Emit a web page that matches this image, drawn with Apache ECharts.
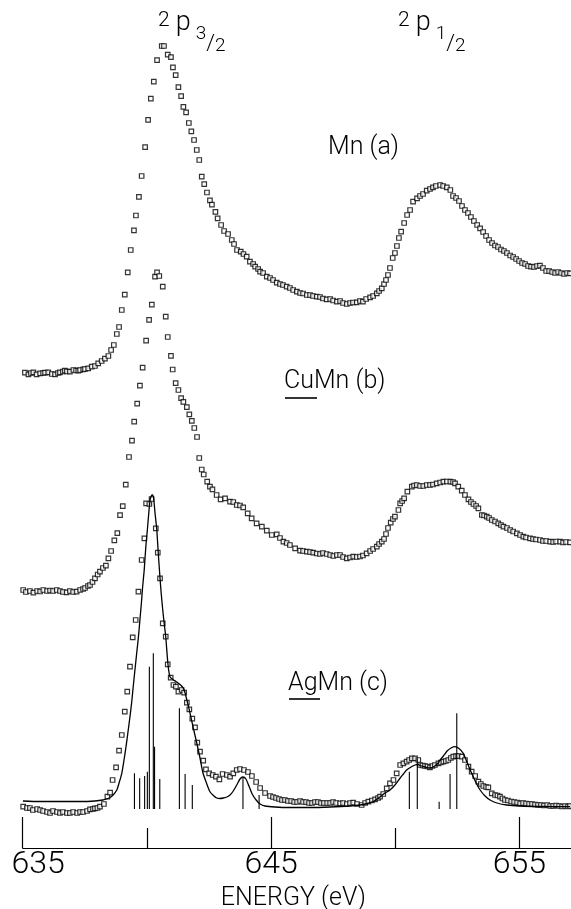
<!DOCTYPE html>
<html><head><meta charset="utf-8">
<script src="https://cdn.jsdelivr.net/npm/echarts@6/dist/echarts.min.js"></script>
<style>html,body{margin:0;padding:0;background:#fff}#c{width:571px;height:909px}</style>
</head><body><div id="c"></div>
<script>
// ---- data (energy in eV, intensity in arbitrary units, spectra stacked) ----
const majorTicks = [635, 645, 655];
const minorTicks = [640, 650];
const tickLabels = ['635', '645', '655'];

const mnA = [[635.09,475.3],[635.23,473.7],[635.33,475],[635.43,475.7],[635.56,473.7],[635.70,474.7],[635.82,475],[635.90,475.3],[636.03,475.7],[636.17,474],[636.30,473.7],[636.42,475],[636.50,475.7],[636.62,476.5],[636.70,477.3],[636.78,476.5],[636.90,476.3],[637.04,478],[637.15,477.5],[637.24,477.3],[637.31,478],[637.44,478.7],[637.51,479],[637.64,479.7],[637.78,481.3],[637.91,482],[638.04,484.7],[638.18,487],[638.31,489.3],[638.45,492],[638.56,498],[638.67,503],[638.79,514],[638.88,521],[638.99,538],[639.11,553.4],[639.23,575.7],[639.35,598],[639.48,617.7],[639.56,632.5],[639.68,651.2],[639.79,672],[639.93,700.8],[640.05,728.2],[640.16,749.4],[640.28,766.3],[640.41,787.9],[640.60,802],[640.69,802],[640.84,793.3],[640.97,790.8],[641.05,780.7],[641.16,772.8],[641.27,760.9],[641.38,751.9],[641.47,741.1],[641.58,735.7],[641.69,725],[641.79,716.7],[641.90,708],[642.01,698],[642.11,688],[642.21,671.3],[642.31,663.8],[642.42,655.5],[642.54,647.6],[642.62,643.3],[642.76,636.1],[642.85,629.6],[642.99,623],[643.11,617],[643.27,614],[643.42,608],[643.51,604],[643.63,598],[643.78,596.3],[643.89,594],[644.02,591.3],[644.15,586.3],[644.28,584],[644.36,581.3],[644.48,579],[644.56,576.3],[644.68,575],[644.83,571.3],[644.96,570],[645.08,568],[645.23,565.3],[645.36,564],[645.48,563],[645.63,561.3],[645.76,560],[645.89,558],[646.04,556.3],[646.17,555],[646.29,554.5],[646.44,553],[646.57,553],[646.69,552],[646.84,551.3],[646.97,551],[647.09,549.5],[647.24,548.7],[647.38,549],[647.50,547.5],[647.65,546.3],[647.78,547],[647.90,545],[648.05,544],[648.18,545],[648.30,545.5],[648.45,545.7],[648.58,547],[648.70,546.3],[648.83,549],[648.99,550.7],[649.11,552],[649.26,554.7],[649.35,557],[649.46,559.7],[649.55,564],[649.63,568],[649.71,573],[649.79,580],[649.90,590],[649.99,595],[650.07,602],[650.15,610],[650.24,616.3],[650.36,625],[650.48,633],[650.60,638],[650.72,646.3],[650.88,649.7],[651.00,652],[651.12,654],[651.27,657.3],[651.40,659],[651.52,660.7],[651.64,662],[651.81,663],[651.93,662],[652.08,660.7],[652.22,658],[652.33,652],[652.45,650],[652.57,647],[652.69,642],[652.81,638],[652.93,635],[653.05,631],[653.17,627],[653.30,623],[653.42,619.7],[653.54,616],[653.66,612],[653.78,608],[653.90,605],[654.02,602.5],[654.14,601],[654.26,598.5],[654.38,597],[654.50,595],[654.63,592.5],[654.75,591],[654.87,589],[654.99,587],[655.11,585],[655.23,584],[655.35,582],[655.47,581.3],[655.59,581],[655.71,582],[655.83,582.3],[655.95,580],[656.08,577],[656.20,577],[656.32,576],[656.44,575],[656.56,576],[656.68,575],[656.80,574],[656.92,575],[657.04,574.7]];

const cuMnB = [[635.02,258],[635.13,256],[635.29,257],[635.43,255.3],[635.58,257],[635.70,256.5],[635.83,258],[635.98,257],[636.10,257.5],[636.22,257],[636.37,258],[636.50,257],[636.62,256],[636.77,255.7],[636.90,257],[637.03,256],[637.17,256.3],[637.31,258],[637.43,259],[637.51,260],[637.63,262],[637.71,263],[637.81,266],[637.91,269.7],[638.02,273.5],[638.11,276.3],[638.23,280],[638.35,282.4],[638.45,289.7],[638.56,297],[638.69,307.7],[638.81,314.9],[638.92,332.8],[639.03,341.8],[639.15,363.4],[639.28,391],[639.40,407.3],[639.49,426.4],[639.61,444.4],[639.72,462.4],[639.83,480.3],[639.97,507.3],[640.09,528.2],[640.20,543.3],[640.33,571.3],[640.41,575.7],[640.50,572],[640.64,561.3],[640.76,531.4],[640.84,511],[640.97,492.2],[641.04,478.5],[641.16,464.9],[641.27,458],[641.38,449.8],[641.47,446.2],[641.61,440.8],[641.71,433.6],[641.81,427.1],[641.91,420],[642.02,411],[642.11,390],[642.21,378.5],[642.29,373.5],[642.43,366.3],[642.54,361.3],[642.64,358.7],[642.81,353],[642.97,348.7],[643.15,349.7],[643.35,346.3],[643.48,346],[643.62,343],[643.75,342.5],[643.88,340.7],[644.06,334.7],[644.22,329.7],[644.42,324.7],[644.63,321.3],[644.83,317.3],[645.03,313],[645.23,313.7],[645.36,310],[645.50,306.3],[645.63,305],[645.76,303],[645.97,299.7],[646.17,297.3],[646.29,297],[646.44,296.3],[646.57,296],[646.70,295.3],[646.84,294.5],[646.97,294],[647.09,295],[647.24,294],[647.38,293],[647.51,292],[647.65,293],[647.78,293],[647.90,291],[648.05,289.7],[648.18,290.5],[648.31,291.3],[648.45,291],[648.58,291.5],[648.70,292.5],[648.85,294.7],[648.99,297],[649.11,299],[649.26,301.3],[649.35,304],[649.46,306.3],[649.55,309],[649.63,314],[649.71,320],[649.82,325.3],[649.91,329],[649.99,331.3],[650.13,338],[650.20,344.7],[650.28,347],[650.36,349.7],[650.49,356.3],[650.67,361.3],[650.76,362.5],[650.87,363],[651.00,362],[651.13,362],[651.27,363],[651.40,363],[651.52,363.5],[651.67,364.7],[651.81,365.5],[651.94,366.3],[652.08,366.5],[652.22,366.3],[652.33,366],[652.41,364.7],[652.54,361.3],[652.68,357.3],[652.81,353],[652.95,348.7],[653.05,346],[653.15,344],[653.26,342],[653.35,339.7],[653.49,333],[653.58,332.5],[653.69,331.3],[653.78,330],[653.89,328],[654.02,326.5],[654.15,324.7],[654.26,323],[654.36,321.3],[654.50,320],[654.63,318],[654.75,316.5],[654.90,314.7],[655.03,313],[655.16,311.3],[655.27,310.5],[655.43,309.7],[655.55,309],[655.67,308.5],[655.83,308],[655.95,307],[656.08,307],[656.24,306.3],[656.36,306],[656.48,306.5],[656.64,306.3],[656.76,305.5],[656.88,306],[657.04,305.7]];

const agMnC = [[635.02,41.3],[635.17,40],[635.29,40],[635.41,38],[635.58,39],[635.70,38],[635.82,37],[635.98,36],[636.10,35],[636.22,37],[636.38,36],[636.50,35],[636.62,36],[636.78,35],[636.90,35],[637.03,36],[637.19,35],[637.31,36],[637.43,36],[637.59,37],[637.71,38.7],[637.83,39],[637.91,39.7],[638.01,40],[638.11,41.3],[638.27,44],[638.41,51.3],[638.52,55.3],[638.62,68],[638.76,80.7],[638.88,97.3],[638.99,113],[639.11,136.3],[639.21,156.3],[639.32,181.3],[639.43,210.7],[639.55,228],[639.66,256.3],[639.79,288],[639.90,309.7],[639.97,344.7],[640.10,344],[640.19,349],[640.36,319.7],[640.44,295.3],[640.53,269.7],[640.64,224.7],[640.76,211.3],[640.84,183.7],[640.96,170.3],[641.07,163],[641.17,161.3],[641.27,156.3],[641.40,158],[641.50,155.3],[641.61,145.3],[641.71,138.7],[641.83,129.3],[641.94,120.7],[642.03,105.3],[642.14,96.3],[642.27,87.3],[642.38,78.7],[642.51,74.7],[642.65,73],[642.78,71.3],[642.92,68.7],[643.05,74],[643.22,73],[643.35,71.3],[643.48,74.7],[643.62,78],[643.75,79],[643.91,78],[644.07,76],[644.23,72],[644.40,66],[644.56,60],[644.76,55],[644.96,52],[645.08,51],[645.20,50],[645.32,49],[645.44,48],[645.56,48],[645.68,47],[645.81,47],[645.93,46],[646.05,46],[646.17,47],[646.29,46],[646.41,46],[646.53,45],[646.65,45],[646.77,46],[646.89,46],[647.01,45],[647.13,45],[647.26,45],[647.38,45],[647.50,46],[647.62,45],[647.78,44.7],[647.90,45],[648.05,44],[648.18,45],[648.31,45.3],[648.46,44],[648.65,43],[648.79,45],[648.92,46.3],[649.06,47.5],[649.19,48.7],[649.31,50],[649.39,51.3],[649.52,54],[649.66,59.7],[649.79,64.7],[649.93,68],[650.06,74.7],[650.20,83],[650.33,84.7],[650.46,86.3],[650.56,88],[650.67,89.7],[650.80,89.7],[650.93,88],[651.00,83],[651.10,82.5],[651.20,82],[651.30,81.5],[651.40,80.7],[651.50,82],[651.60,83],[651.74,84.7],[651.84,85.5],[651.94,86.3],[652.04,87],[652.14,88],[652.24,90],[652.34,91.3],[652.45,91.8],[652.54,92],[652.68,91.3],[652.81,88],[652.95,81.3],[653.08,76.3],[653.22,72],[653.35,66.3],[653.45,64],[653.55,62],[653.66,61],[653.75,60.7],[653.89,54.7],[654.02,53],[654.12,52.5],[654.22,51.3],[654.32,49.5],[654.42,48],[654.54,47.5],[654.67,46.5],[654.79,46],[654.91,45.5],[655.03,44.7],[655.15,45],[655.27,44.5],[655.39,44],[655.51,44],[655.63,43.5],[655.75,43],[655.87,43],[655.99,42.5],[656.12,43],[656.24,42],[656.36,42],[656.48,42.5],[656.60,42],[656.72,41.5],[656.84,42],[656.96,41.5],[657.04,42]];

const agMnFit = [[635.01,47],[635.70,46.5],[636.50,46.5],[637.31,46.5],[637.91,47],[638.23,48],[638.43,49.5],[638.52,50.5],[638.64,53],[638.79,58],[638.88,65],[638.99,74.7],[639.08,88],[639.16,101.3],[639.24,116],[639.32,131.3],[639.39,146],[639.45,161.3],[639.52,178],[639.59,194.7],[639.66,211],[639.72,228],[639.78,245],[639.83,261.3],[639.89,277],[639.93,291.3],[639.97,305],[640.02,318],[640.07,333],[640.13,348],[640.18,352],[640.22,353],[640.27,350],[640.33,334.7],[640.40,318],[640.46,294.7],[640.53,269.7],[640.58,254],[640.64,238],[640.70,224],[640.76,211.3],[640.85,183.7],[640.93,171.3],[641.07,168],[641.17,166.5],[641.27,164.7],[641.38,162.5],[641.47,159.7],[641.54,155],[641.61,148],[641.67,142],[641.74,134.7],[641.87,120],[642.01,105],[642.14,90],[642.26,75],[642.40,65],[642.54,56.3],[642.68,52.5],[642.81,50],[642.95,49.5],[643.08,50],[643.22,51],[643.35,53],[643.48,57],[643.62,63],[643.75,69],[643.87,71],[643.99,69],[644.11,62],[644.24,54],[644.40,48],[644.56,44],[644.76,42],[645.16,41],[645.76,40.5],[646.57,40.5],[647.38,41],[648.18,42],[648.58,43],[648.87,44.5],[649.11,46.3],[649.39,51],[649.59,55],[649.79,58],[649.99,63],[650.20,70],[650.33,74],[650.46,78],[650.64,81],[650.80,83],[650.92,83.5],[651.00,82.5],[651.20,81],[651.40,80],[651.60,82],[651.73,85],[651.81,88],[651.94,92],[652.09,97],[652.25,100],[652.41,101.3],[652.57,99.5],[652.74,94.7],[652.89,86],[653.08,74.7],[653.26,65],[653.42,58],[653.62,52],[653.82,48],[654.10,45],[654.49,43],[655.03,42],[655.83,41.5],[657.04,41.3]];

const agMnSticks = [[639.50,74.7],[639.71,69.7],[639.91,72],[640.02,76.3],[640.10,181.3],[640.26,194.7],[640.31,101.3],[640.52,69],[641.31,139.7],[641.54,74],[641.83,63],[643.87,70],[644.52,53],[650.57,76.3],[650.89,89.7],[651.77,46.3],[652.21,74],[652.48,134.7]];
const stickBase = 39;

// ---- chart ----
const FONT = 'Roboto';
const W = 300;
const chart = echarts.init(document.getElementById('c'), null, {renderer: 'canvas'});
const square = {symbol: 'rect', symbolSize: 4.5, itemStyle: {color: '#fff', borderColor: '#000', borderWidth: 1.2}};
function fracLabel(x, lower) {
  const base = {fontFamily: FONT, fontWeight: W, fill: '#000', verticalAlign: 'top'};
  return {
    type: 'text', x: x, y: 10, z: 10,
    style: {
      text: '{s|2}{p|p}{n|' + lower + '}{l|/}{d|2}', fill: '#000', fontFamily: FONT, fontWeight: W,
      align: 'left', verticalAlign: 'top',
      rich: {
        s: Object.assign({fontSize: 21, padding: [0, 0, 0, 0]}, base),
        p: Object.assign({fontSize: 27, padding: [0, 0, 0, 6]}, base),
        n: Object.assign({fontSize: 19, padding: [15, 0, 0, 5]}, base),
        l: Object.assign({fontSize: 22, padding: [23, 0, 0, 0]}, base),
        d: Object.assign({fontSize: 19, padding: [27, 0, 0, 0]}, base)
      }
    }
  };
}
function sampleLabel(x, y, text) {
  return {type: 'text', x: x, y: y, z: 10, style: {text: text, fontSize: 25, fontFamily: FONT, fontWeight: W, fill: '#000', align: 'left', verticalAlign: 'top'}};
}
function underline(x1, x2, y) {
  return {type: 'line', z: 10, shape: {x1: x1, y1: y, x2: x2, y2: y}, style: {stroke: '#000', lineWidth: 1.6}};
}

chart.setOption({
  animation: false,
  backgroundColor: '#fff',
  grid: {left: 22.7, right: 0, top: 0, bottom: 61, containLabel: false, outerBoundsMode: 'none'},
  xAxis: [{
    type: 'value', min: 635, max: 657.08, position: 'bottom',
    axisLine: {show: true, onZero: false, lineStyle: {color: '#000', width: 1.2}},
    axisTick: {show: true, inside: true, length: 31, customValues: majorTicks, lineStyle: {color: '#000', width: 1.2}},
    axisLabel: {
      show: true, customValues: majorTicks, margin: 1,
      formatter: function (v) {
        const i = majorTicks.indexOf(v);
        const t = i >= 0 ? tickLabels[i] : String(v);
        return i === 0 ? '{first|' + t + '}' : '{n|' + t + '}';
      },
      rich: {
        first: {fontSize: 32, fontFamily: FONT, fontWeight: W, color: '#000', padding: [0, 0, 0, 31]},
        n: {fontSize: 32, fontFamily: FONT, fontWeight: W, color: '#000'}
      }
    },
    splitLine: {show: false},
    name: 'ENERGY (eV)', nameLocation: 'middle', nameGap: 36,
    nameTextStyle: {fontFamily: FONT, fontWeight: W, fontSize: 25, color: '#000', padding: [0, 7, 0, 0]}
  }, {
    type: 'value', min: 635, max: 657.08, position: 'bottom',
    axisLine: {show: false},
    axisTick: {show: true, inside: true, length: 20, customValues: minorTicks, lineStyle: {color: '#000', width: 1.2}},
    axisLabel: {show: false},
    splitLine: {show: false}
  }],
  yAxis: {type: 'value', min: 0, max: 848, show: false},
  series: [
    Object.assign({type: 'scatter', name: 'Mn (a)', data: mnA, xAxisIndex: 0}, square),
    Object.assign({type: 'scatter', name: 'CuMn (b)', data: cuMnB, xAxisIndex: 0}, square),
    Object.assign({type: 'scatter', name: 'AgMn (c)', data: agMnC, xAxisIndex: 0}, square),
    {type: 'line', name: 'AgMn fit', data: agMnFit, xAxisIndex: 0, smooth: 0.25, showSymbol: false, symbol: 'none',
     lineStyle: {color: '#000', width: 1.3}, z: 5},
    {type: 'custom', name: 'sticks', data: agMnSticks, xAxisIndex: 0, z: 4,
     encode: {x: 0, y: 1},
     renderItem: function (params, api) {
       const e = api.value(0), h = api.value(1);
       const p0 = api.coord([e, stickBase]);
       const p1 = api.coord([e, h]);
       return {type: 'line', shape: {x1: p0[0], y1: p0[1], x2: p1[0], y2: p1[1]}, style: {stroke: '#000', lineWidth: 1.1}};
     }}
  ],
  graphic: [
    fracLabel(158, '3'),
    fracLabel(398, '1'),
    sampleLabel(328, 135, 'Mn (a)'),
    sampleLabel(284, 369, 'CuMn (b)'),
    underline(285, 317, 398),
    sampleLabel(288, 671, 'AgMn (c)'),
    underline(289, 320, 699)
  ]
});
</script>
</body></html>
